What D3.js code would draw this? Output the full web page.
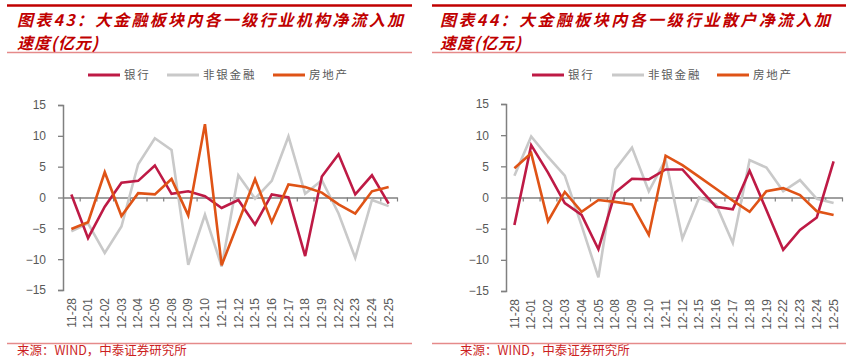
<!DOCTYPE html>
<html>
<head>
<meta charset="utf-8">
<script src="https://cdn.jsdelivr.net/npm/d3@7"></script>
<style>
  html, body { margin: 0; padding: 0; background: #fff; }
  svg { display: block; }
</style>
</head>
<body>
<svg id="chart" width="852" height="359"></svg>
<script>
const categories = ["11-28","12-01","12-02","12-03","12-04","12-05","12-08","12-09","12-10","12-11","12-12","12-15","12-16","12-17","12-18","12-19","12-22","12-23","12-24","12-25"];
const seriesNames = ["银行", "非银金融", "房地产"];
const yTicks = [-15, -10, -5, 0, 5, 10, 15];

// 图表43：机构净流入加速度
const bankInst    = [0.5,-6.6,-1.5,2.4,2.7,5.2,0.6,1.0,0.2,-1.7,-0.4,-4.4,0.5,0.0,-9.5,3.4,7.0,0.5,3.6,-1.0];
const nonbankInst = [-5.5,-4.2,-9.0,-4.7,5.4,9.6,7.7,-10.9,-2.8,-11.2,3.6,-0.2,2.7,9.9,0.6,2.8,-2.6,-9.8,-0.4,-1.4];
const realInst    = [-5.1,-4.0,4.1,-3.0,0.7,0.5,3.0,-2.9,11.9,-11.0,-4.0,3.0,-4.0,2.1,1.7,0.8,-1.1,-2.6,1.0,1.7];

// 图表44：散户净流入加速度
const bankRetail    = [-4.4,8.4,4.0,-0.9,-2.8,-8.3,0.8,3.0,2.9,4.5,4.5,1.5,-1.5,-1.9,4.3,-2.0,-8.4,-5.2,-3.2,5.8];
const nonbankRetail = [3.5,9.8,6.5,3.5,-4.5,-12.8,4.5,8.0,1.0,6.1,-6.6,0.0,-1.1,-7.3,6.0,4.8,1.0,2.8,-0.2,-0.9];
const realRetail    = [4.7,7.1,-3.8,0.9,-2.3,-0.4,-0.7,-1.1,-6.0,6.7,5.2,3.3,1.4,-0.5,-2.3,1.0,1.5,0.4,-2.2,-2.8];

const colors = ["#be1a45", "#c9c9c9", "#df5316"];
const titleRed = "#c00000";
const axisGray = "#808080";
const textGray = "#595959";

const svg = d3.select("#chart");
svg.append("rect").attr("width", 852).attr("height", 359).attr("fill", "#fff");

const panels = [
  {
    title1: "图表43：大金融板块内各一级行业机构净流入加",
    title2: "速度(亿元)",
    frame: [7, 412], titleX: 17, titleLen: 386,
    plot: { x0: 63, x1: 397, y0: 290, y1: 105 },
    legendX: [88, 167, 273],
    series: [bankInst, nonbankInst, realInst],
    sourceX: 17
  },
  {
    title1: "图表44：大金融板块内各一级行业散户净流入加",
    title2: "速度(亿元)",
    frame: [432, 846], titleX: 440, titleLen: 390,
    plot: { x0: 506, x1: 842, y0: 291, y1: 104 },
    legendX: [532, 612, 717],
    series: [bankRetail, nonbankRetail, realRetail],
    sourceX: 460
  }
];

panels.forEach(p => {
  const g = svg.append("g");
  // frame lines
  g.append("line").attr("x1", p.frame[0]).attr("x2", p.frame[1]).attr("y1", 5.5).attr("y2", 5.5)
    .attr("stroke", titleRed).attr("stroke-width", 2.5);
  g.append("line").attr("x1", p.frame[0]).attr("x2", p.frame[1]).attr("y1", 52.5).attr("y2", 52.5)
    .attr("stroke", "#e58a8a").attr("stroke-width", 1.3);
  g.append("line").attr("x1", p.frame[0]).attr("x2", p.frame[1]).attr("y1", 343.5).attr("y2", 343.5)
    .attr("stroke", "#e58a8a").attr("stroke-width", 1.3);

  // titles
  const tStyle = sel => sel.attr("fill", titleRed).attr("font-family", "'Noto Sans CJK SC', sans-serif")
    .attr("font-size", 16).attr("font-weight", "bold").attr("font-style", "italic");
  g.append("text").attr("x", p.titleX).attr("y", 26).text(p.title1).call(tStyle)
    .attr("textLength", p.titleLen).attr("lengthAdjust", "spacing");
  g.append("text").attr("x", p.titleX).attr("y", 48.5).text(p.title2).call(tStyle)
    .attr("letter-spacing", 1);

  // source
  g.append("text").attr("x", p.sourceX).attr("y", 355).text("来源：WIND，中泰证券研究所")
    .attr("fill", "#cc1f1f").attr("font-family", "'Noto Sans CJK SC', sans-serif").attr("font-size", 12.5);

  // scales
  const P = p.plot;
  const x = d3.scaleBand().domain(categories).range([P.x0, P.x1]).padding(0);
  const xb = d3.scaleLinear().domain([0, categories.length]).range([P.x0, P.x1]);
  const y = d3.scaleLinear().domain([-15, 15]).range([P.y0, P.y1]);

  // y axis
  const yAxis = g.append("g").attr("transform", `translate(${P.x0},0)`)
    .call(d3.axisLeft(y).tickValues(yTicks).tickSize(5).tickSizeOuter(5).tickPadding(12));
  yAxis.select(".domain").attr("stroke", axisGray).attr("stroke-width", 1.5);
  yAxis.selectAll(".tick line").attr("stroke", axisGray).attr("stroke-width", 1.3);
  yAxis.selectAll(".tick text").attr("fill", textGray).attr("font-size", 12)
    .attr("font-family", "'Liberation Sans', Arial, sans-serif");

  // zero line with ticks at band boundaries
  const xAxis = g.append("g").attr("transform", `translate(0,${y(0)})`)
    .call(d3.axisBottom(xb).tickValues(d3.range(1, categories.length + 1)).tickSize(4).tickSizeOuter(0).tickFormat(""));
  xAxis.select(".domain").attr("stroke", axisGray).attr("stroke-width", 1.6);
  xAxis.selectAll(".tick line").attr("stroke", axisGray).attr("stroke-width", 1.2);

  // category labels at bottom
  const labAxis = g.append("g").attr("transform", `translate(0,${P.y0})`)
    .call(d3.axisBottom(x).tickSize(0).tickPadding(0));
  labAxis.select(".domain").remove();
  labAxis.selectAll(".tick text")
    .attr("transform", "translate(0,8) rotate(-90)")
    .attr("text-anchor", "end").attr("x", 0).attr("y", 0).attr("dy", "0.35em")
    .attr("fill", textGray).attr("font-size", 12)
    .attr("font-family", "'Liberation Sans', Arial, sans-serif");

  // lines
  const line = d3.line().x((d, i) => x(categories[i]) + x.bandwidth() / 2).y(d => y(d));
  [1, 0, 2].forEach(si => {
    g.append("path").datum(p.series[si]).attr("d", line)
      .attr("fill", "none").attr("stroke", colors[si]).attr("stroke-width", 2.6)
      .attr("stroke-linejoin", "miter");
  });

  // legend
  seriesNames.forEach((name, i) => {
    const lx = p.legendX[i];
    g.append("line").attr("x1", lx).attr("x2", lx + 32).attr("y1", 75).attr("y2", 75)
      .attr("stroke", colors[i]).attr("stroke-width", 3);
    g.append("text").attr("x", lx + 36).attr("y", 79).text(name)
      .attr("fill", textGray).attr("font-size", 11.5).attr("letter-spacing", 1.8)
      .attr("font-family", "'Noto Sans CJK SC', sans-serif");
  });
});
</script>
</body>
</html>
